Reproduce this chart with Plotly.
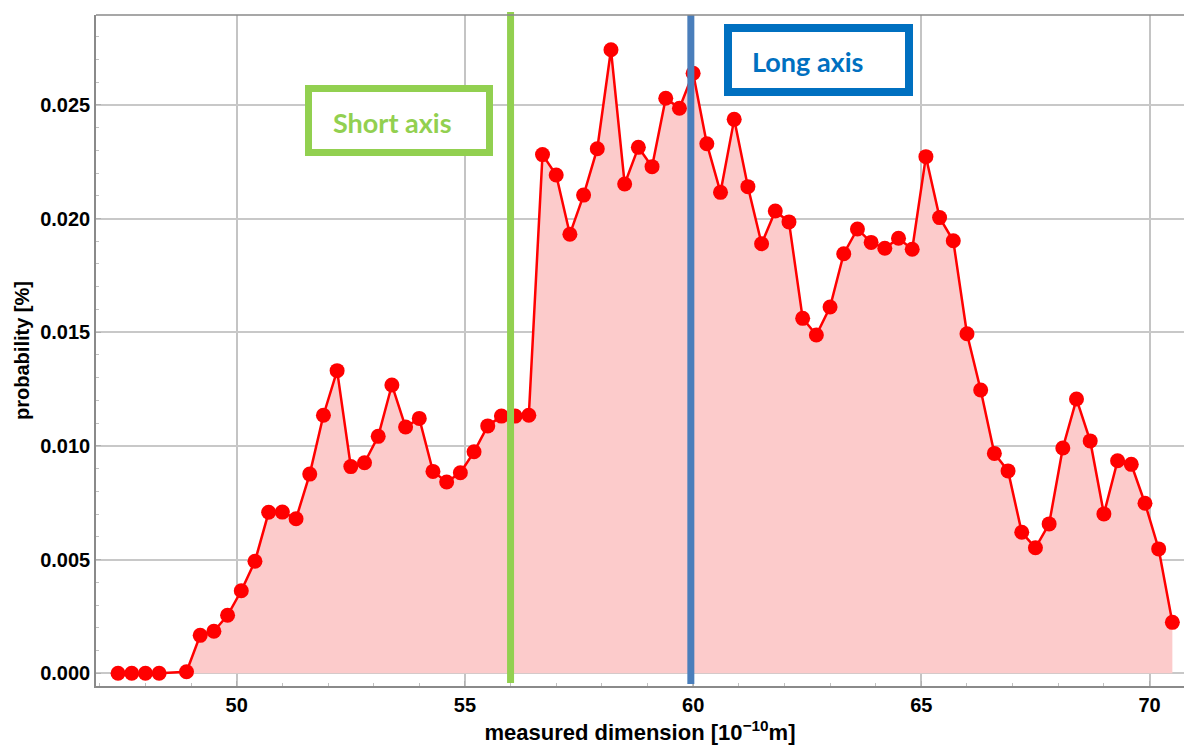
import plotly.graph_objects as go

# ---- data ----
dimension = [47.4, 47.7, 48.0, 48.3, 48.9, 49.2, 49.5, 49.8, 50.1, 50.4,
             50.7, 51.0, 51.3, 51.6, 51.9, 52.2, 52.5, 52.8, 53.1, 53.4,
             53.7, 54.0, 54.3, 54.6, 54.9, 55.2, 55.5, 55.8, 56.1, 56.4,
             56.7, 57.0, 57.3, 57.6, 57.9, 58.2, 58.5, 58.8, 59.1, 59.4,
             59.7, 60.0, 60.3, 60.6, 60.9, 61.2, 61.5, 61.8, 62.1, 62.4,
             62.7, 63.0, 63.3, 63.6, 63.9, 64.2, 64.5, 64.8, 65.1, 65.4,
             65.7, 66.0, 66.3, 66.6, 66.9, 67.2, 67.5, 67.8, 68.1, 68.4,
             68.7, 69.0, 69.3, 69.6, 69.9, 70.2, 70.5]
probability = [0.0000, 0.0000, 0.0000, 0.0000, 0.00007, 0.00167, 0.00185, 0.00255, 0.00363, 0.00493,
               0.00708, 0.00709, 0.00680, 0.00876, 0.01135, 0.01331, 0.00909, 0.00926, 0.01042, 0.01268,
               0.01083, 0.01121, 0.00888, 0.00841, 0.00882, 0.00974, 0.01088, 0.01131, 0.01131, 0.01135,
               0.02281, 0.02191, 0.01931, 0.02103, 0.02307, 0.02742, 0.02152, 0.02313, 0.02228, 0.02529,
               0.02485, 0.02639, 0.02329, 0.02115, 0.02436, 0.02140, 0.01889, 0.02033, 0.01985, 0.01561,
               0.01488, 0.01611, 0.01845, 0.01954, 0.01895, 0.01869, 0.01913, 0.01865, 0.02272, 0.02004,
               0.01902, 0.01493, 0.01246, 0.00967, 0.00890, 0.00620, 0.00552, 0.00657, 0.00991, 0.01206,
               0.01022, 0.00701, 0.00935, 0.00919, 0.00748, 0.00547, 0.00224]

short_axis_x = 56.0
long_axis_x = 59.95
x_ticks = [50, 55, 60, 65, 70]
y_ticks = [0.000, 0.005, 0.010, 0.015, 0.020, 0.025]

GREEN = "#92d050"
BLUE_LINE = "#4a7ebb"
BLUE_BOX = "#0070c0"

fig = go.Figure()
fig.add_trace(go.Scatter(
    x=dimension, y=probability, mode="lines+markers",
    fill="tozeroy", fillcolor="rgba(252,203,203,1)",
    line=dict(color="#ff0000", width=2.5),
    marker=dict(color="#ff0000", size=15),
    showlegend=False,
))

W, H = 1184, 745
L, R, T, B = 96, 0, 15, 59
pw, ph = W - L - R, H - T - B

def px(xp):
    return (xp - L) / pw

def py(yp):
    return (H - B - yp) / ph

shapes = [
    dict(type="line", xref="x", yref="paper", x0=short_axis_x, x1=short_axis_x,
         y0=py(683), y1=py(12), line=dict(color=GREEN, width=7), layer="above"),
    dict(type="line", xref="x", yref="paper", x0=long_axis_x, x1=long_axis_x,
         y0=py(684), y1=py(15), line=dict(color=BLUE_LINE, width=7), layer="above"),
    dict(type="rect", xref="paper", yref="paper", x0=px(308.5), x1=px(489.5),
         y0=py(152.5), y1=py(88.5), line=dict(color=GREEN, width=7),
         fillcolor="white", layer="above"),
    dict(type="rect", xref="paper", yref="paper", x0=px(728), x1=px(909),
         y0=py(92), y1=py(28), line=dict(color=BLUE_BOX, width=8),
         fillcolor="white", layer="above"),
    dict(type="line", xref="paper", yref="paper", x0=0, x1=1, y0=1, y1=1,
         line=dict(color="#8a8a8a", width=1.5)),
]

annotations = [
    dict(text="Short axis", xref="paper", yref="paper", x=px(392), y=py(122),
         xanchor="center", yanchor="middle", showarrow=False,
         font=dict(family="Lato", size=27, color=GREEN, weight="bold")),
    dict(text="Long axis", xref="paper", yref="paper", x=px(807), y=py(61),
         xanchor="center", yanchor="middle", showarrow=False,
         font=dict(family="Lato", size=27, color=BLUE_BOX, weight="bold")),
]

axis_font = dict(family="Liberation Sans", size=20, color="black", weight="bold")
title_font = dict(family="Liberation Sans", size=20, color="black", weight="bold")

fig.update_layout(
    width=W, height=H,
    margin=dict(l=L, r=R, t=T, b=B),
    paper_bgcolor="white", plot_bgcolor="white",
    shapes=shapes, annotations=annotations,
    xaxis=dict(
        range=[46.917, 70.755], tickvals=x_ticks, ticktext=[str(v) for v in x_ticks],
        tickfont=axis_font, showgrid=True, gridcolor="#c4c4c4", gridwidth=1.5,
        zeroline=False, showline=True, linecolor="#8a8a8a", linewidth=1.5,
        ticks="inside", ticklen=5, tickcolor="#b0b0b0",
        minor=dict(dtick=1, tick0=0, ticks="inside", ticklen=3, tickcolor="#c0c0c0", showgrid=False),
        title=dict(text="measured dimension [10<sup>\u221210</sup>m]",
                   font=dict(family="Liberation Sans", size=22, color="black", weight="bold"),
                   standoff=10),
    ),
    yaxis=dict(
        range=[-0.000558, 0.028949], tickvals=y_ticks,
        ticktext=[f"{v:.3f}" for v in y_ticks],
        tickfont=axis_font, showgrid=True, gridcolor="#c8c8c8", gridwidth=1.5,
        zeroline=False, showline=True, linecolor="#8a8a8a", linewidth=1.5,
        ticks="inside", ticklen=5, tickcolor="#b0b0b0",
        minor=dict(dtick=0.001, tick0=0, ticks="inside", ticklen=3, tickcolor="#c0c0c0", showgrid=False),
        title=dict(text="probability [%]", font=title_font, standoff=5),
    ),
)

fig.write_html("out.html")
